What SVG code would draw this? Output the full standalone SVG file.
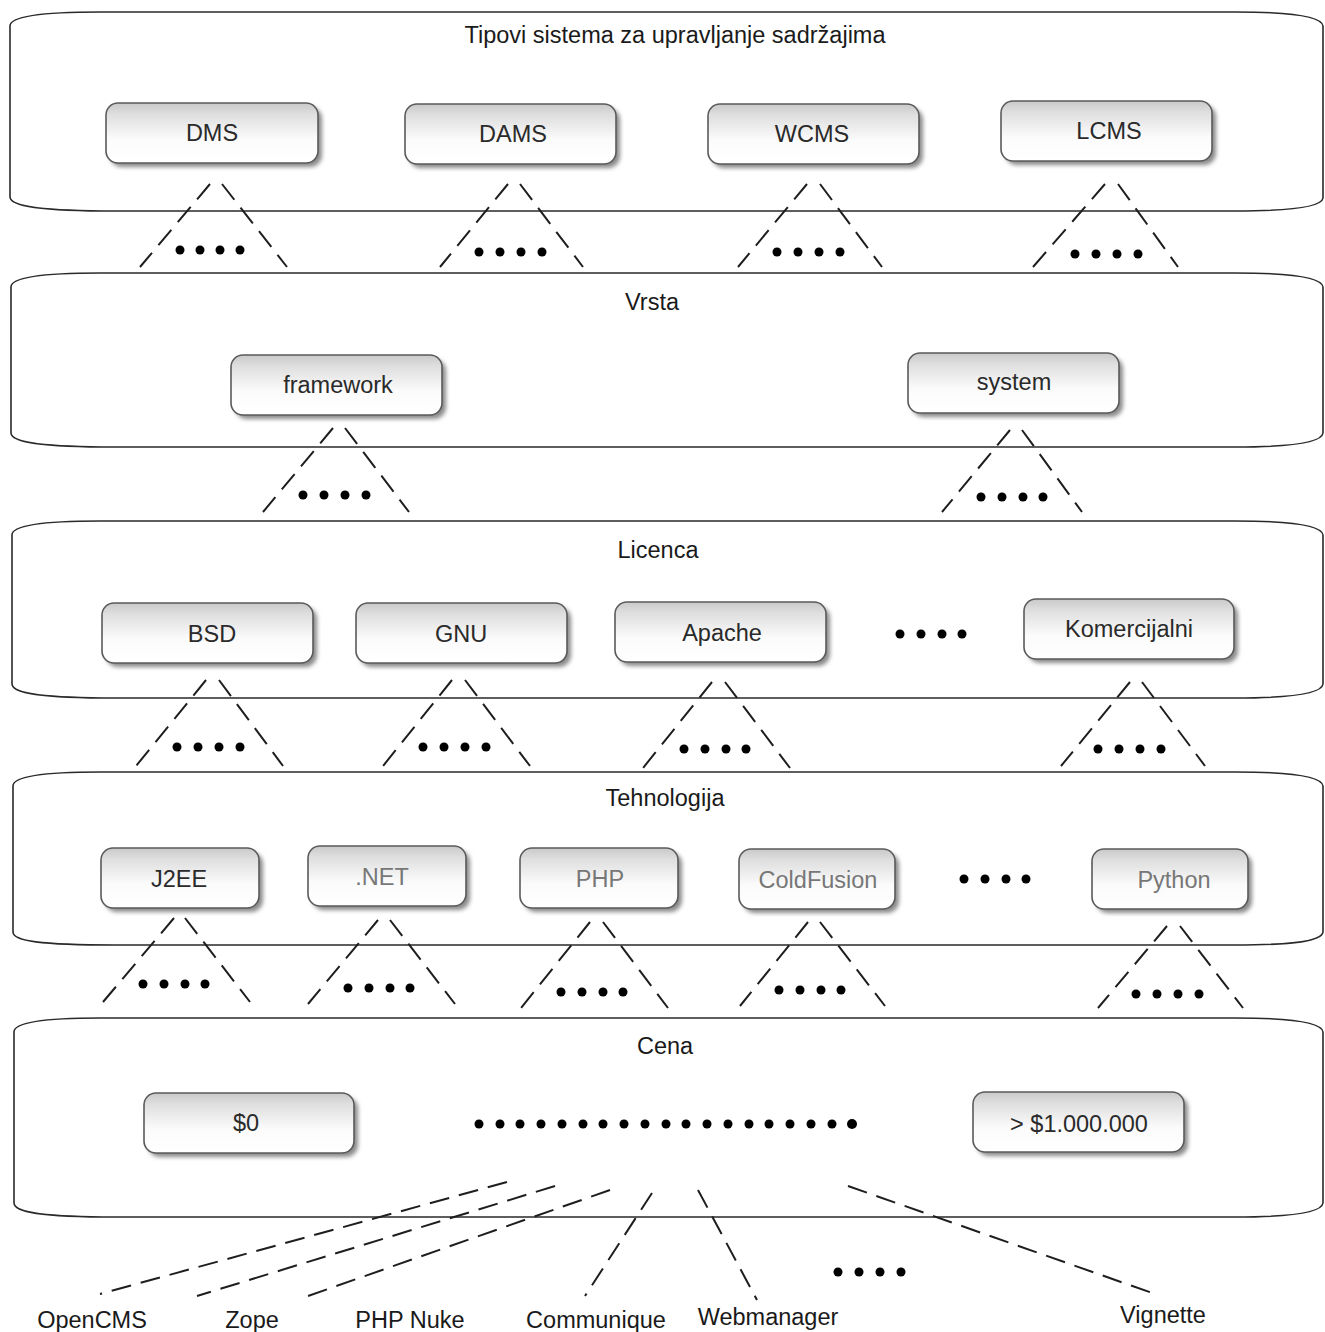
<svg xmlns="http://www.w3.org/2000/svg" width="1325" height="1332" viewBox="0 0 1325 1332">
<defs>
  <linearGradient id="gloss" x1="0" y1="0" x2="0" y2="1">
    <stop offset="0" stop-color="#c9c9c9"/>
    <stop offset="0.18" stop-color="#dedede"/>
    <stop offset="0.6" stop-color="#fbfbfb"/>
    <stop offset="1" stop-color="#ffffff"/>
  </linearGradient>
  <filter id="shadow" x="-10%" y="-20%" width="125%" height="150%">
    <feGaussianBlur stdDeviation="2"/>
  </filter>
</defs>
<style>
  .cont { fill: #ffffff; stroke: #2a2a2a; stroke-width: 1.6; }
  .title { font-family: "Liberation Sans", Arial, sans-serif; font-size: 23.5px; fill: #1a1a1a; text-anchor: middle; }
  .nshadow { fill: #8a8a8a; filter: url(#shadow); }
  .nbox { fill: url(#gloss); stroke: #5a5a5a; stroke-width: 1.6; }
  .nlabel { font-family: "Liberation Sans", Arial, sans-serif; font-size: 23.5px; fill: #2a2a2a; text-anchor: middle; }
  .light { fill: #777777; }
  .dash { stroke: #1e1e1e; stroke-width: 2; stroke-dasharray: 20 10; fill: none; }
  .blabel { font-family: "Liberation Sans", Arial, sans-serif; font-size: 23.5px; fill: #1a1a1a; text-anchor: middle; }
</style>
<rect width="1325" height="1332" fill="#ffffff"/>

<!-- Containers -->
<g id="containers">
  <g id="c-tipovi">
    <path class="cont" d="M100 12 H1235 C1295 12 1322 17 1323 26 V198 C1322 206 1295 211 1235 211 H115 C40 211 10 206 10 197 V26 C10 17 40 12 100 12 Z"/>
    <text class="title" x="675" y="43">Tipovi sistema za upravljanje sadržajima</text>
  </g>
  <g id="c-vrsta">
    <path class="cont" d="M100 273 H1235 C1295 273 1322 278 1323 287 V433 C1322 442 1295 447 1235 447 H115 C40 447 11 442 11 433 V287 C11 278 40 273 100 273 Z"/>
    <text class="title" x="652" y="310">Vrsta</text>
  </g>
  <g id="c-licenca">
    <path class="cont" d="M100 521 H1235 C1295 521 1322 526 1323 535 V684 C1322 693 1295 698 1235 698 H115 C40 698 12 693 12 684 V535 C12 526 40 521 100 521 Z"/>
    <text class="title" x="658" y="558">Licenca</text>
  </g>
  <g id="c-tehnologija">
    <path class="cont" d="M100 772 H1235 C1295 772 1322 777 1323 786 V932 C1322 941 1295 945 1235 945 H115 C40 945 13 941 13 932 V786 C13 777 40 772 100 772 Z"/>
    <text class="title" x="665" y="806">Tehnologija</text>
  </g>
  <g id="c-cena">
    <path class="cont" d="M100 1018 H1235 C1295 1018 1322 1023 1323 1032 V1203 C1322 1212 1295 1217 1235 1217 H115 C40 1217 14 1212 14 1203 V1032 C14 1023 40 1018 100 1018 Z"/>
    <text class="title" x="665" y="1054">Cena</text>
  </g>
</g>

<!-- Nodes -->
<g id="nodes">
  <g id="n-dms"><rect class="nshadow" x="110" y="107" width="212" height="60" rx="12"/><rect class="nbox" x="106" y="103" width="212" height="60" rx="12"/><text class="nlabel" x="212" y="141">DMS</text></g>
  <g id="n-dams"><rect class="nshadow" x="409" y="108" width="211" height="60" rx="12"/><rect class="nbox" x="405" y="104" width="211" height="60" rx="12"/><text class="nlabel" x="513" y="142">DAMS</text></g>
  <g id="n-wcms"><rect class="nshadow" x="712" y="108" width="211" height="60" rx="12"/><rect class="nbox" x="708" y="104" width="211" height="60" rx="12"/><text class="nlabel" x="812" y="142">WCMS</text></g>
  <g id="n-lcms"><rect class="nshadow" x="1005" y="105" width="211" height="60" rx="12"/><rect class="nbox" x="1001" y="101" width="211" height="60" rx="12"/><text class="nlabel" x="1109" y="139">LCMS</text></g>

  <g id="n-framework"><rect class="nshadow" x="235" y="359" width="211" height="60" rx="12"/><rect class="nbox" x="231" y="355" width="211" height="60" rx="12"/><text class="nlabel" x="338" y="393">framework</text></g>
  <g id="n-system"><rect class="nshadow" x="912" y="357" width="211" height="60" rx="12"/><rect class="nbox" x="908" y="353" width="211" height="60" rx="12"/><text class="nlabel" x="1014" y="390">system</text></g>

  <g id="n-bsd"><rect class="nshadow" x="106" y="607" width="211" height="60" rx="12"/><rect class="nbox" x="102" y="603" width="211" height="60" rx="12"/><text class="nlabel" x="212" y="642">BSD</text></g>
  <g id="n-gnu"><rect class="nshadow" x="360" y="607" width="211" height="60" rx="12"/><rect class="nbox" x="356" y="603" width="211" height="60" rx="12"/><text class="nlabel" x="461" y="642">GNU</text></g>
  <g id="n-apache"><rect class="nshadow" x="619" y="606" width="211" height="60" rx="12"/><rect class="nbox" x="615" y="602" width="211" height="60" rx="12"/><text class="nlabel" x="722" y="641">Apache</text></g>
  <g id="n-komercijalni"><rect class="nshadow" x="1028" y="603" width="210" height="60" rx="12"/><rect class="nbox" x="1024" y="599" width="210" height="60" rx="12"/><text class="nlabel" x="1129" y="637">Komercijalni</text></g>

  <g id="n-j2ee"><rect class="nshadow" x="105" y="852" width="158" height="60" rx="12"/><rect class="nbox" x="101" y="848" width="158" height="60" rx="12"/><text class="nlabel" x="179" y="887">J2EE</text></g>
  <g id="n-net"><rect class="nshadow" x="312" y="850" width="158" height="60" rx="12"/><rect class="nbox" x="308" y="846" width="158" height="60" rx="12"/><text class="nlabel light" x="382" y="885">.NET</text></g>
  <g id="n-php"><rect class="nshadow" x="524" y="852" width="158" height="60" rx="12"/><rect class="nbox" x="520" y="848" width="158" height="60" rx="12"/><text class="nlabel light" x="600" y="887">PHP</text></g>
  <g id="n-coldfusion"><rect class="nshadow" x="743" y="853" width="156" height="60" rx="12"/><rect class="nbox" x="739" y="849" width="156" height="60" rx="12"/><text class="nlabel light" x="818" y="888">ColdFusion</text></g>
  <g id="n-python"><rect class="nshadow" x="1096" y="853" width="156" height="60" rx="12"/><rect class="nbox" x="1092" y="849" width="156" height="60" rx="12"/><text class="nlabel light" x="1174" y="888">Python</text></g>

  <g id="n-zero"><rect class="nshadow" x="148" y="1097" width="210" height="60" rx="12"/><rect class="nbox" x="144" y="1093" width="210" height="60" rx="12"/><text class="nlabel" x="246" y="1131">$0</text></g>
  <g id="n-million"><rect class="nshadow" x="977" y="1096" width="211" height="60" rx="12"/><rect class="nbox" x="973" y="1092" width="211" height="60" rx="12"/><text class="nlabel" x="1079" y="1132">&gt; $1.000.000</text></g>

  <g id="n-opencms"><text class="blabel" x="92" y="1328">OpenCMS</text></g>
  <g id="n-zope"><text class="blabel" x="252" y="1328">Zope</text></g>
  <g id="n-phpnuke"><text class="blabel" x="410" y="1328">PHP Nuke</text></g>
  <g id="n-communique"><text class="blabel" x="596" y="1328">Communique</text></g>
  <g id="n-webmanager"><text class="blabel" x="768" y="1325">Webmanager</text></g>
  <g id="n-vignette"><text class="blabel" x="1163" y="1323">Vignette</text></g>
</g>

<!-- Connectors -->
<g id="connectors">
  <line class="dash" x1="210" y1="184" x2="140" y2="267"/><line class="dash" x1="222" y1="184" x2="287" y2="267"/>
  <line class="dash" x1="508" y1="184" x2="440" y2="267"/><line class="dash" x1="520" y1="184" x2="583" y2="267"/>
  <line class="dash" x1="807" y1="184" x2="738" y2="267"/><line class="dash" x1="820" y1="184" x2="882" y2="267"/>
  <line class="dash" x1="1105" y1="184" x2="1033" y2="267"/><line class="dash" x1="1118" y1="184" x2="1178" y2="267"/>

  <line class="dash" x1="333" y1="428" x2="263" y2="512"/><line class="dash" x1="345" y1="428" x2="409" y2="512"/>
  <line class="dash" x1="1010" y1="430" x2="942" y2="512"/><line class="dash" x1="1022" y1="430" x2="1082" y2="512"/>

  <line class="dash" x1="206" y1="680" x2="136" y2="766"/><line class="dash" x1="219" y1="680" x2="283" y2="766"/>
  <line class="dash" x1="452" y1="680" x2="383" y2="766"/><line class="dash" x1="465" y1="680" x2="530" y2="766"/>
  <line class="dash" x1="712" y1="682" x2="643" y2="768"/><line class="dash" x1="725" y1="682" x2="790" y2="768"/>
  <line class="dash" x1="1130" y1="682" x2="1061" y2="766"/><line class="dash" x1="1142" y1="682" x2="1205" y2="766"/>

  <line class="dash" x1="174" y1="918" x2="103" y2="1002"/><line class="dash" x1="185" y1="918" x2="250" y2="1002"/>
  <line class="dash" x1="378" y1="920" x2="308" y2="1004"/><line class="dash" x1="390" y1="920" x2="455" y2="1004"/>
  <line class="dash" x1="590" y1="922" x2="521" y2="1008"/><line class="dash" x1="603" y1="922" x2="668" y2="1008"/>
  <line class="dash" x1="808" y1="922" x2="740" y2="1006"/><line class="dash" x1="820" y1="922" x2="885" y2="1006"/>
  <line class="dash" x1="1167" y1="926" x2="1098" y2="1008"/><line class="dash" x1="1180" y1="926" x2="1243" y2="1008"/>

  <line class="dash" x1="507" y1="1182" x2="100" y2="1294"/>
  <line class="dash" x1="555" y1="1186" x2="197" y2="1296"/>
  <line class="dash" x1="610" y1="1190" x2="308" y2="1296"/>
  <line class="dash" x1="652" y1="1193" x2="585" y2="1296"/>
  <line class="dash" x1="698" y1="1190" x2="757" y2="1300"/>
  <line class="dash" x1="848" y1="1186" x2="1158" y2="1295"/>
</g>

<!-- Ellipsis dots -->
<g id="dots">
  <g fill="#000">
    <circle cx="180" cy="250" r="4.5"/><circle cx="200" cy="250" r="4.5"/><circle cx="220" cy="250" r="4.5"/><circle cx="240" cy="250" r="4.5"/>
    <circle cx="479" cy="252" r="4.5"/><circle cx="500" cy="252" r="4.5"/><circle cx="521" cy="252" r="4.5"/><circle cx="542" cy="252" r="4.5"/>
    <circle cx="777" cy="252" r="4.5"/><circle cx="798" cy="252" r="4.5"/><circle cx="819" cy="252" r="4.5"/><circle cx="840" cy="252" r="4.5"/>
    <circle cx="1075" cy="254" r="4.5"/><circle cx="1096" cy="254" r="4.5"/><circle cx="1117" cy="254" r="4.5"/><circle cx="1138" cy="254" r="4.5"/>

    <circle cx="303" cy="495" r="4.5"/><circle cx="324" cy="495" r="4.5"/><circle cx="345" cy="495" r="4.5"/><circle cx="366" cy="495" r="4.5"/>
    <circle cx="981" cy="497" r="4.5"/><circle cx="1002" cy="497" r="4.5"/><circle cx="1023" cy="497" r="4.5"/><circle cx="1043" cy="497" r="4.5"/>

    <circle cx="177" cy="747" r="4.5"/><circle cx="198" cy="747" r="4.5"/><circle cx="219" cy="747" r="4.5"/><circle cx="240" cy="747" r="4.5"/>
    <circle cx="423" cy="747" r="4.5"/><circle cx="444" cy="747" r="4.5"/><circle cx="465" cy="747" r="4.5"/><circle cx="486" cy="747" r="4.5"/>
    <circle cx="684" cy="749" r="4.5"/><circle cx="705" cy="749" r="4.5"/><circle cx="726" cy="749" r="4.5"/><circle cx="746" cy="749" r="4.5"/>
    <circle cx="1098" cy="749" r="4.5"/><circle cx="1119" cy="749" r="4.5"/><circle cx="1140" cy="749" r="4.5"/><circle cx="1161" cy="749" r="4.5"/>
    <circle cx="900" cy="634" r="4.5"/><circle cx="921" cy="634" r="4.5"/><circle cx="942" cy="634" r="4.5"/><circle cx="962" cy="634" r="4.5"/>

    <circle cx="143" cy="984" r="4.5"/><circle cx="164" cy="984" r="4.5"/><circle cx="185" cy="984" r="4.5"/><circle cx="205" cy="984" r="4.5"/>
    <circle cx="348" cy="988" r="4.5"/><circle cx="369" cy="988" r="4.5"/><circle cx="390" cy="988" r="4.5"/><circle cx="410" cy="988" r="4.5"/>
    <circle cx="561" cy="992" r="4.5"/><circle cx="582" cy="992" r="4.5"/><circle cx="603" cy="992" r="4.5"/><circle cx="623" cy="992" r="4.5"/>
    <circle cx="779" cy="990" r="4.5"/><circle cx="800" cy="990" r="4.5"/><circle cx="821" cy="990" r="4.5"/><circle cx="841" cy="990" r="4.5"/>
    <circle cx="1136" cy="994" r="4.5"/><circle cx="1157" cy="994" r="4.5"/><circle cx="1178" cy="994" r="4.5"/><circle cx="1199" cy="994" r="4.5"/>
    <circle cx="964" cy="879" r="4.5"/><circle cx="985" cy="879" r="4.5"/><circle cx="1006" cy="879" r="4.5"/><circle cx="1026" cy="879" r="4.5"/>

    <circle cx="479" cy="1124" r="4.5"/><circle cx="500" cy="1124" r="4.5"/><circle cx="520" cy="1124" r="4.5"/><circle cx="541" cy="1124" r="4.5"/><circle cx="562" cy="1124" r="4.5"/><circle cx="583" cy="1124" r="4.5"/><circle cx="603" cy="1124" r="4.5"/><circle cx="624" cy="1124" r="4.5"/><circle cx="645" cy="1124" r="4.5"/><circle cx="666" cy="1124" r="4.5"/><circle cx="686" cy="1124" r="4.5"/><circle cx="707" cy="1124" r="4.5"/><circle cx="728" cy="1124" r="4.5"/><circle cx="749" cy="1124" r="4.5"/><circle cx="769" cy="1124" r="4.5"/><circle cx="790" cy="1124" r="4.5"/><circle cx="811" cy="1124" r="4.5"/><circle cx="832" cy="1124" r="4.5"/><circle cx="852" cy="1124" r="5"/>

    <circle cx="838" cy="1272" r="4.5"/><circle cx="859" cy="1272" r="4.5"/><circle cx="880" cy="1272" r="4.5"/><circle cx="901" cy="1272" r="4.5"/>
  </g>
</g>
</svg>
